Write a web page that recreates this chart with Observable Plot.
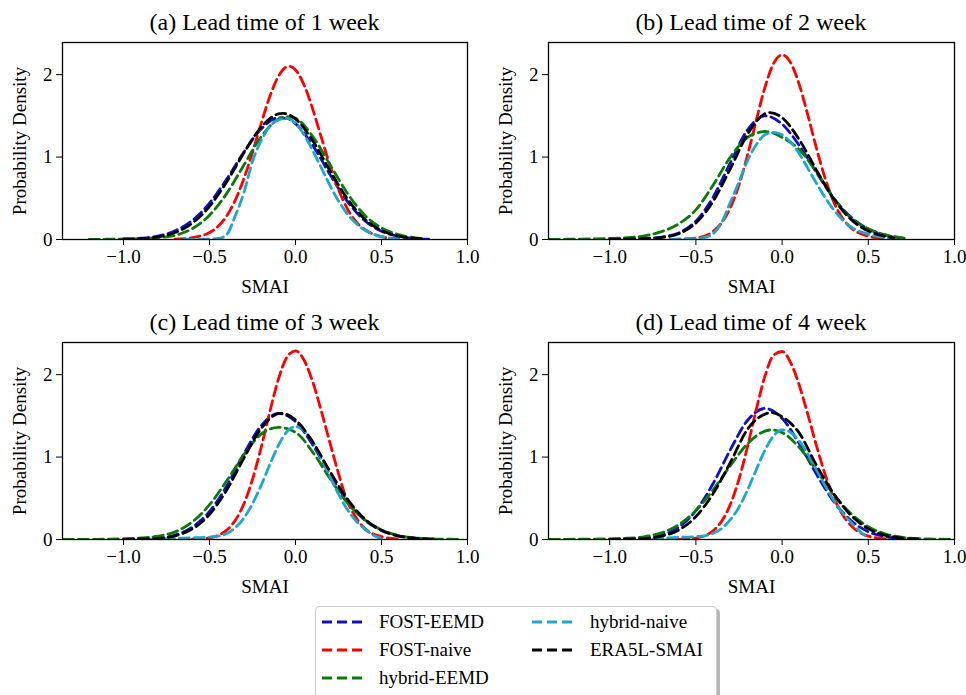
<!DOCTYPE html>
<html><head><meta charset="utf-8">
<script src="https://cdn.jsdelivr.net/npm/d3@7"></script>
<script src="https://cdn.jsdelivr.net/npm/@observablehq/plot@0.6"></script>
<style>
body{margin:0;background:#fff;}
#root{position:relative;width:966px;height:695px;overflow:hidden;font-family:"Liberation Serif","Times New Roman",serif;color:#000;background:#fff;}
.title{position:absolute;font-size:24px;line-height:24px;text-align:center;white-space:nowrap;}
.panel{position:absolute;}
#legend{position:absolute;left:315px;top:606px;width:400px;height:110px;border:1px solid #cccccc;border-radius:4px;background:#fff;box-shadow:3px 3px 0 rgba(0,0,0,0.28);}
.lab{position:absolute;font-size:19px;line-height:19px;white-space:nowrap;}
.sw{position:absolute;}
</style></head>
<body><div id="root"></div>
<script>
// ---- series names and colours ----
const seriesNames = ["FOST-EEMD", "FOST-naive", "hybrid-EEMD", "hybrid-naive", "ERA5L-SMAI"];
const seriesColors = ["#1010c8", "#ff0000", "#0a7a0a", "#1ea8c8", "#000000"];
const panelTitles = ["(a) Lead time of 1 week", "(b) Lead time of 2 week", "(c) Lead time of 3 week", "(d) Lead time of 4 week"];
const xTicks = [-1.0, -0.5, 0.0, 0.5, 1.0];
const yTicks = [0, 1, 2];

// ---- (a) lead time 1 week: [SMAI, density] ----
const a_FOST_EEMD = [[-1.0,0.004],[-0.9,0.015],[-0.8,0.042],[-0.7,0.106],[-0.6,0.232],[-0.5,0.441],[-0.4,0.733],[-0.3,1.062],[-0.2,1.341],[-0.1,1.476],[-0.05,1.47],[0,1.406],[0.1,1.142],[0.2,0.79],[0.3,0.466],[0.4,0.234],[0.5,0.1],[0.6,0.037],[0.7,0.011],[0.79,0.002]];
const a_FOST_naive = [[-0.7,0.003],[-0.6,0.022],[-0.5,0.085],[-0.45,0.16],[-0.4,0.287],[-0.35,0.479],[-0.3,0.739],[-0.25,1.059],[-0.2,1.406],[-0.15,1.732],[-0.1,1.978],[-0.05,2.095],[-0.035,2.1],[0,2.057],[0.05,1.873],[0.1,1.582],[0.15,1.239],[0.2,0.9],[0.25,0.606],[0.3,0.378],[0.35,0.219],[0.4,0.125],[0.5,0.035],[0.6,0.008]];
const a_hybrid_EEMD = [[-1.2,0.001],[-1.1,0.003],[-1.0,0.006],[-0.9,0.011],[-0.8,0.022],[-0.7,0.051],[-0.6,0.132],[-0.5,0.295],[-0.4,0.559],[-0.3,0.904],[-0.2,1.245],[-0.1,1.46],[-0.05,1.49],[0,1.47],[0.1,1.25],[0.2,0.91],[0.3,0.565],[0.4,0.3],[0.5,0.14],[0.6,0.06],[0.7,0.02],[0.75,0.01]];
const a_hybrid_naive = [[-0.65,0.002],[-0.55,0.003],[-0.5,0.006],[-0.45,0.012],[-0.4,0.06],[-0.35,0.29],[-0.3,0.57],[-0.25,0.95],[-0.2,1.2],[-0.15,1.37],[-0.1,1.45],[-0.05,1.47],[0,1.41],[0.05,1.27],[0.1,1.08],[0.15,0.87],[0.2,0.657],[0.25,0.468],[0.3,0.314],[0.35,0.199],[0.4,0.118],[0.5,0.035],[0.6,0.008]];
const a_ERA5L_SMAI = [[-1.0,0.003],[-0.9,0.01],[-0.8,0.031],[-0.7,0.085],[-0.6,0.199],[-0.5,0.402],[-0.4,0.7],[-0.3,1.052],[-0.2,1.363],[-0.1,1.523],[-0.075,1.53],[0,1.463],[0.1,1.198],[0.2,0.835],[0.3,0.497],[0.4,0.252],[0.5,0.109],[0.6,0.04],[0.7,0.012],[0.75,0.005]];

// ---- (b) lead time 2 week ----
const b_FOST_EEMD = [[-1.0,0.002],[-0.9,0.005],[-0.8,0.012],[-0.7,0.03],[-0.6,0.08],[-0.5,0.223],[-0.4,0.514],[-0.3,0.932],[-0.2,1.332],[-0.1,1.5],[0,1.4],[0.1,1.14],[0.2,0.81],[0.3,0.5],[0.4,0.27],[0.5,0.127],[0.6,0.052],[0.7,0.015]];
const b_FOST_naive = [[-0.65,0.002],[-0.6,0.004],[-0.5,0.017],[-0.45,0.043],[-0.4,0.098],[-0.35,0.205],[-0.3,0.386],[-0.25,0.661],[-0.2,1.026],[-0.15,1.443],[-0.1,1.843],[-0.05,2.133],[0,2.24],[0.05,2.143],[0.1,1.876],[0.15,1.503],[0.2,1.102],[0.25,0.74],[0.3,0.454],[0.35,0.26],[0.4,0.14],[0.5,0.04],[0.6,0.01]];
const b_hybrid_EEMD = [[-1.35,0.001],[-1.3,0.002],[-1.2,0.004],[-1.1,0.007],[-1.0,0.012],[-0.9,0.022],[-0.8,0.045],[-0.7,0.095],[-0.6,0.19],[-0.5,0.36],[-0.4,0.66],[-0.3,1.0],[-0.2,1.24],[-0.15,1.29],[-0.1,1.31],[-0.05,1.29],[0,1.24],[0.1,1.09],[0.2,0.82],[0.3,0.5],[0.4,0.26],[0.5,0.13],[0.6,0.055],[0.7,0.02],[0.73,0.012]];
const b_hybrid_naive = [[-0.65,0.002],[-0.6,0.003],[-0.5,0.01],[-0.45,0.025],[-0.4,0.07],[-0.35,0.21],[-0.3,0.45],[-0.25,0.7],[-0.2,0.96],[-0.15,1.15],[-0.1,1.27],[-0.05,1.3],[0,1.27],[0.05,1.18],[0.1,1.04],[0.15,0.86],[0.2,0.68],[0.25,0.507],[0.3,0.359],[0.35,0.24],[0.4,0.153],[0.5,0.065],[0.6,0.02],[0.65,0.006]];
const b_ERA5L_SMAI = [[-1.0,0.002],[-0.9,0.005],[-0.8,0.01],[-0.7,0.025],[-0.6,0.07],[-0.5,0.2],[-0.4,0.464],[-0.3,0.86],[-0.2,1.278],[-0.1,1.525],[-0.07,1.54],[0,1.478],[0.1,1.21],[0.2,0.839],[0.3,0.492],[0.4,0.244],[0.5,0.103],[0.6,0.037],[0.65,0.02]];

// ---- (c) lead time 3 week ----
const c_FOST_EEMD = [[-1.0,0.003],[-0.9,0.006],[-0.8,0.016],[-0.7,0.054],[-0.6,0.15],[-0.5,0.34],[-0.4,0.65],[-0.3,1.04],[-0.2,1.38],[-0.1,1.53],[0,1.43],[0.1,1.15],[0.2,0.79],[0.3,0.47],[0.4,0.24],[0.5,0.11],[0.6,0.045],[0.7,0.016],[0.8,0.005]];
const c_FOST_naive = [[-0.6,0.003],[-0.5,0.02],[-0.45,0.05],[-0.4,0.114],[-0.35,0.233],[-0.3,0.433],[-0.25,0.73],[-0.2,1.115],[-0.15,1.545],[-0.1,1.941],[-0.05,2.212],[0,2.288],[0.05,2.174],[0.1,1.913],[0.15,1.558],[0.2,1.174],[0.25,0.8],[0.3,0.47],[0.35,0.27],[0.4,0.14],[0.5,0.035],[0.6,0.006]];
const c_hybrid_EEMD = [[-1.35,0.001],[-1.3,0.001],[-1.2,0.002],[-1.1,0.004],[-1.0,0.008],[-0.9,0.018],[-0.8,0.04],[-0.7,0.093],[-0.6,0.214],[-0.5,0.422],[-0.4,0.712],[-0.3,1.03],[-0.2,1.278],[-0.1,1.36],[0,1.3],[0.1,1.06],[0.2,0.74],[0.3,0.448],[0.4,0.244],[0.5,0.116],[0.6,0.049],[0.7,0.018],[0.8,0.007],[0.9,0.003],[0.95,0.002]];
const c_hybrid_naive = [[-0.85,0.004],[-0.8,0.008],[-0.7,0.015],[-0.6,0.02],[-0.5,0.03],[-0.45,0.04],[-0.4,0.073],[-0.35,0.144],[-0.3,0.262],[-0.25,0.435],[-0.2,0.657],[-0.15,0.906],[-0.1,1.14],[-0.05,1.308],[0,1.37],[0.05,1.32],[0.1,1.184],[0.15,0.986],[0.2,0.764],[0.25,0.55],[0.3,0.368],[0.35,0.229],[0.4,0.132],[0.45,0.055],[0.5,0.01]];
const c_ERA5L_SMAI = [[-1.0,0.002],[-0.9,0.004],[-0.8,0.013],[-0.7,0.045],[-0.6,0.128],[-0.5,0.304],[-0.4,0.601],[-0.3,0.988],[-0.2,1.347],[-0.1,1.526],[-0.08,1.53],[0,1.451],[0.1,1.183],[0.2,0.826],[0.3,0.495],[0.4,0.254],[0.5,0.112],[0.6,0.042],[0.7,0.014],[0.8,0.004]];

// ---- (d) lead time 4 week ----
const d_FOST_EEMD = [[-1.0,0.002],[-0.9,0.005],[-0.8,0.015],[-0.7,0.053],[-0.6,0.15],[-0.5,0.35],[-0.4,0.679],[-0.3,1.09],[-0.2,1.447],[-0.1,1.59],[0,1.47],[0.1,1.16],[0.2,0.79],[0.3,0.46],[0.4,0.23],[0.5,0.095],[0.6,0.035],[0.7,0.01]];
const d_FOST_naive = [[-0.6,0.002],[-0.5,0.017],[-0.45,0.045],[-0.4,0.106],[-0.35,0.224],[-0.3,0.427],[-0.25,0.733],[-0.2,1.132],[-0.15,1.576],[-0.1,1.977],[-0.05,2.235],[0,2.281],[0.05,2.144],[0.1,1.869],[0.15,1.511],[0.2,1.132],[0.25,0.787],[0.3,0.507],[0.35,0.303],[0.4,0.168],[0.5,0.041],[0.6,0.008]];
const d_hybrid_EEMD = [[-1.35,0.001],[-1.3,0.001],[-1.2,0.003],[-1.1,0.005],[-1.0,0.008],[-0.9,0.015],[-0.8,0.033],[-0.7,0.08],[-0.6,0.18],[-0.5,0.352],[-0.4,0.602],[-0.3,0.896],[-0.2,1.163],[-0.1,1.315],[-0.06,1.33],[0,1.298],[0.1,1.116],[0.2,0.837],[0.3,0.547],[0.4,0.312],[0.5,0.155],[0.6,0.067],[0.7,0.025],[0.8,0.009],[0.9,0.004],[1.0,0.002]];
const d_hybrid_naive = [[-0.75,0.005],[-0.7,0.015],[-0.6,0.025],[-0.5,0.035],[-0.45,0.045],[-0.4,0.075],[-0.35,0.135],[-0.3,0.24],[-0.25,0.391],[-0.2,0.603],[-0.15,0.846],[-0.1,1.081],[-0.05,1.256],[0,1.33],[0.05,1.298],[0.1,1.194],[0.15,1.036],[0.2,0.846],[0.25,0.651],[0.3,0.472],[0.35,0.323],[0.4,0.208],[0.45,0.1],[0.5,0.02]];
const d_ERA5L_SMAI = [[-1.0,0.002],[-0.9,0.004],[-0.8,0.012],[-0.7,0.04],[-0.6,0.115],[-0.5,0.278],[-0.4,0.557],[-0.3,0.934],[-0.2,1.34],[-0.1,1.52],[-0.065,1.54],[0,1.49],[0.1,1.29],[0.2,0.897],[0.3,0.553],[0.4,0.292],[0.5,0.132],[0.6,0.051],[0.7,0.017],[0.8,0.005]];

const panelSeries = [
  [a_FOST_EEMD, a_FOST_naive, a_hybrid_EEMD, a_hybrid_naive, a_ERA5L_SMAI],
  [b_FOST_EEMD, b_FOST_naive, b_hybrid_EEMD, b_hybrid_naive, b_ERA5L_SMAI],
  [c_FOST_EEMD, c_FOST_naive, c_hybrid_EEMD, c_hybrid_naive, c_ERA5L_SMAI],
  [d_FOST_EEMD, d_FOST_naive, d_hybrid_EEMD, d_hybrid_naive, d_ERA5L_SMAI]
];

const root = document.getElementById("root");
const fmtX = d => d.toFixed(1).replace("-", "\u2212");
const layout = [
  {left: 0,   top: 36,  ml: 62, mr: 16},
  {left: 483, top: 36,  ml: 65, mr: 12},
  {left: 0,   top: 336, ml: 62, mr: 16},
  {left: 483, top: 336, ml: 65, mr: 12}
];

panelSeries.forEach((list, i) => {
  const L = layout[i];
  const rows = [];
  list.forEach((arr, k) => arr.forEach(([x, y]) => rows.push({series: seriesNames[k], x, y})));
  const chart = Plot.plot({
    width: 483, height: 264,
    marginLeft: L.ml, marginRight: L.mr, marginTop: 6, marginBottom: 61,
    style: {fontFamily: '"Liberation Serif", "Times New Roman", serif', fontSize: "19px", background: "transparent", color: "#000", overflow: "visible"},
    x: {domain: [-1.355, 1.0]},
    y: {domain: [0, 2.39]},
    color: {domain: seriesNames, range: seriesColors},
    marks: [
      Plot.line(rows, {x: "x", y: "y", z: "series", stroke: "series", strokeWidth: 2.8, strokeDasharray: "10,5", curve: "monotone-x", clip: true}),
      Plot.frame({stroke: "#000", strokeWidth: 1.3}),
      Plot.axisX({ticks: xTicks, tickFormat: fmtX, tickSize: 6, tickPadding: 4, fontSize: 19, label: "SMAI", labelAnchor: "center", labelOffset: 53, labelArrow: "none"}),
      Plot.axisY({ticks: yTicks, tickFormat: d => String(d), tickSize: 6, tickPadding: 4, fontSize: 19, label: "Probability Density", labelAnchor: "center", labelOffset: 50, labelArrow: "none"})
    ]
  });
  const wrap = document.createElement("div");
  wrap.className = "panel";
  wrap.style.left = L.left + "px";
  wrap.style.top = L.top + "px";
  wrap.appendChild(chart);
  root.appendChild(wrap);

  const t = document.createElement("div");
  t.className = "title";
  t.textContent = panelTitles[i];
  t.style.left = (L.left + L.ml) + "px";
  t.style.width = (483 - L.ml - L.mr) + "px";
  t.style.top = (L.top + 6 - 32) + "px";
  root.appendChild(t);
});

// ---- legend ----
const legend = document.createElement("div");
legend.id = "legend";
root.appendChild(legend);
const legendPos = [
  {col: 0, row: 0}, {col: 0, row: 1}, {col: 0, row: 2}, {col: 1, row: 0}, {col: 1, row: 1}
];
const colLineX = [6, 216], colTextX = [63, 274], rowY = [14.7, 43, 71];
seriesNames.forEach((name, k) => {
  const p = legendPos[k];
  const cy = rowY[p.row];
  const svg = d3.create("svg").attr("class", "sw").attr("width", 42).attr("height", 8)
    .style("left", colLineX[p.col] + "px").style("top", (cy - 4) + "px");
  svg.append("line").attr("x1", 0).attr("x2", 42).attr("y1", 4).attr("y2", 4)
    .attr("stroke", seriesColors[k]).attr("stroke-width", 2.8).attr("stroke-dasharray", "10,5");
  legend.appendChild(svg.node());
  const s = document.createElement("div");
  s.className = "lab";
  s.textContent = name;
  s.style.left = colTextX[p.col] + "px";
  s.style.top = (cy - 9.6) + "px";
  legend.appendChild(s);
});
</script>
</body></html>
